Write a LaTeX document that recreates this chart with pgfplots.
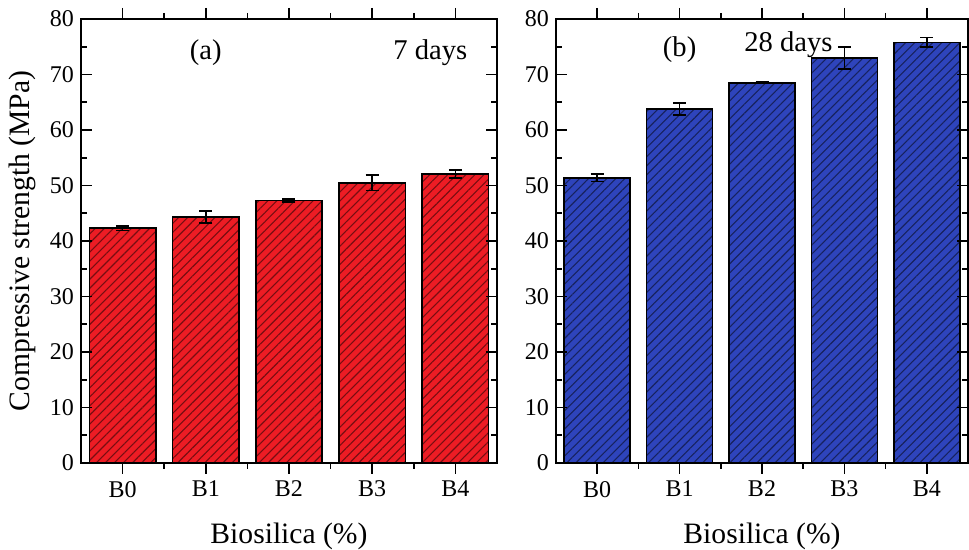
\documentclass[border=0pt]{standalone}
\usepackage{fontspec}
\setmainfont{Liberation Serif}
\usepackage{pgfplots}
\usepackage{pgfplotstable}
\pgfplotsset{compat=1.18}
\usetikzlibrary{patterns.meta}
\definecolor{redc}{RGB}{237,28,36}
\definecolor{bluec}{RGB}{46,68,188}

\pgfplotstableread{
x y e
0 42.3 0.4
1 44.3 1.1
2 47.3 0.3
3 50.5 1.4
4 52.1 0.7
}\sevendays
\pgfplotstableread{
x y e
0 51.4 0.7
1 63.8 1.1
2 68.5 0.15
3 73.0 2.0
4 75.8 0.9
}\twentyeight

\pgfplotsset{mystyle/.style={
 scale only axis, width=208pt, height=222pt,
 xmin=-0.5, xmax=4.5, ymin=0, ymax=80,
 xtick={0,...,4}, xticklabels={B0,B1,B2,B3,B4},
 minor xtick={0.5,1.5,2.5,3.5},
 ytick={0,10,...,80}, minor ytick={5,15,...,75},
 tick align=inside, xtick pos=both, ytick pos=both,
 major tick length=5.5pt, minor tick length=3pt,
 every tick/.style={black, line width=0.8pt},
 axis line style={line width=1pt},
 axis on top,
 tick label style={font=\fontsize{12}{14}\selectfont},
 /pgf/number format/assume math mode=true,
 label style={font=\fontsize{14.8}{17}\selectfont},
 xlabel={Biosilica (\%)},
 xlabel style={yshift=-6pt},
 ybar, bar width=0.8,
}}
\pgfplotsset{barstyle/.style={draw=black, line width=0.8pt, fill=#1,
   postaction={pattern={Lines[angle=45,distance=3.2pt,line width=0.55pt]}, pattern color=#1!50!black},
   error bars/.cd, y dir=both, y explicit, error mark=|,
   error bar style={line width=0.8pt, black},
   error mark options={line width=0.8pt, mark size=3.25pt, black}}}

\begin{document}
\begin{tikzpicture}
\path[use as bounding box] (0,0) rectangle (484.5pt,275pt);
\begin{axis}[mystyle, at={(40.5pt,43.5pt)}, anchor=south west,
  ylabel={Compressive strength (MPa)}]
\addplot[barstyle=redc] table[x=x, y=y, y error=e] {\sevendays};
\node[font=\fontsize{14.3}{17}\selectfont] at (axis cs:1,74) {(a)};
\node[font=\fontsize{14.3}{17}\selectfont] at (axis cs:3.7,74) {7 days};
\end{axis}
\begin{axis}[mystyle, at={(278pt,43.5pt)}, anchor=south west, width=206pt]
\addplot[barstyle=bluec] table[x=x, y=y, y error=e] {\twentyeight};
\node[font=\fontsize{14.3}{17}\selectfont] at (axis cs:1,74.4) {(b)};
\node[font=\fontsize{14.3}{17}\selectfont] at (axis cs:2.32,75.4) {28 days};
\end{axis}
\end{tikzpicture}
\end{document}
